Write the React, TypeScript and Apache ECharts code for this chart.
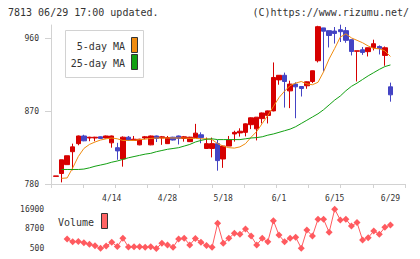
import React, { useEffect, useRef } from "react";
import * as echarts from "echarts";

const dates = [
  "3/31", "4/1", "4/2", "4/3", "4/6", "4/7", "4/8", "4/9", "4/10", "4/13",
  "4/14", "4/15", "4/16", "4/17", "4/20", "4/21", "4/22", "4/23", "4/24", "4/27",
  "4/28", "4/30", "5/1", "5/7", "5/8", "5/11", "5/12", "5/13", "5/14", "5/15",
  "5/18", "5/19", "5/20", "5/21", "5/22", "5/25", "5/26", "5/27", "5/28", "5/29",
  "6/1", "6/2", "6/3", "6/4", "6/5", "6/8", "6/9", "6/10", "6/11", "6/12",
  "6/15", "6/16", "6/17", "6/18", "6/19", "6/22", "6/23", "6/24", "6/25", "6/26",
  "6/29",
];
const padCategories = ["", ""];

// [open, close, low, high]
const candles: number[][] = [
  [789.5, 790, 789.5, 790],
  [793, 810, 782, 810],
  [804, 815, 804, 815],
  [820, 826, 797, 830],
  [830, 839.5, 828, 840],
  [839.5, 833.5, 833, 841],
  [837, 838, 833, 838.5],
  [837, 838, 833, 838.5],
  [838.5, 836.5, 836, 839],
  [837, 839.5, 836.5, 840],
  [831, 839.5, 825, 840],
  [825, 821, 810, 831],
  [811, 838, 801.5, 839],
  [838, 834, 834, 839.5],
  [834, 835.5, 834, 839.5],
  [828.5, 835.5, 828, 836],
  [837, 838.5, 835.5, 839.5],
  [828.5, 839.5, 828, 840],
  [839.5, 836.5, 832, 840],
  [837, 838.5, 828.5, 839.5],
  [830, 837.5, 830, 839.5],
  [838, 834.5, 834, 838.5],
  [839.5, 836.5, 829, 840],
  [836.5, 838.5, 832.5, 839.5],
  [832.5, 838, 832, 838.5],
  [837.5, 843, 837, 854.5],
  [841, 837.5, 830.5, 844],
  [824, 830, 823.5, 837.5],
  [824, 830, 813, 837.5],
  [830, 809, 796.5, 834.5],
  [811, 827, 800, 827.5],
  [827, 834.5, 827, 839.5],
  [842, 844, 832.5, 846],
  [843.3, 845.4, 838.7, 849],
  [844, 854.5, 839, 855],
  [853.5, 862, 848, 862.5],
  [848.3, 862.8, 834, 863],
  [861, 868, 855, 868.5],
  [865, 870.6, 855, 871],
  [870.6, 912, 870, 930.6],
  [909, 914.7, 903, 915],
  [914.7, 907, 874.7, 918],
  [895.4, 903.8, 874, 908],
  [903.8, 900.4, 861.5, 906],
  [900.8, 898.3, 888.4, 901],
  [901.7, 906.6, 898, 907],
  [907, 920.3, 905, 920.5],
  [932.7, 974.9, 930.6, 976],
  [973.4, 969.3, 919.4, 973.5],
  [970, 964, 949.2, 970],
  [969.5, 966.5, 954, 974.5],
  [971.2, 968.7, 955.9, 977.4],
  [970, 958, 955, 974.5],
  [958.8, 944.2, 939.3, 959],
  [944.5, 945, 907, 945],
  [946.3, 943, 940, 949.7],
  [944, 948.8, 938, 949],
  [949, 953.8, 945.5, 958.8],
  [950.4, 948, 940.5, 951.7],
  [939.3, 948.8, 926.5, 950.4],
  [900.4, 890.5, 882, 905.6],
];

const ma5: (number | null)[] = [
  null, 787, 787.5, 800, 814, 824, 829, 832, 834.5, 836,
  837, 836, 834, 834, 834, 835, 835.5, 836.5, 837, 837,
  837, 837, 837, 837, 836.5, 836.5, 836, 836, 835, 830,
  827, 825, 824.5, 826, 830, 838, 845, 855, 865, 876,
  887, 895, 902, 905, 907, 904, 903, 906, 919, 935,
  948, 962, 966, 961, 958, 955, 951, 948, 947.5, 945,
  938,
];

const ma25: (number | null)[] = [
  null, 798, 798, 798, 798, 798.5, 800, 802, 803.5, 805,
  807, 808.5, 810.5, 812.5, 814, 815.5, 817, 818, 820, 821.5,
  823, 824, 825, 827, 829, 832, 834, 835.5, 836, 835,
  835, 835, 835, 835, 836, 837, 837.5, 838.5, 840.5, 842,
  844, 846, 848, 851, 855, 859, 863, 867, 872, 878,
  884, 889, 895.5, 901, 905, 909.5, 914, 918, 922, 925.5,
  927.5,
];

const volume: (number | null)[] = [
  null, null, 4500, 3300, 3400, 2900, 2250, 1600, 600, 1500,
  3100, 1300, 4800, 1100, 1200, 1250, 1000, 1250, 500, 2700,
  2000, 1000, 4500, 4800, 2000, 4700, 3100, 1700, 1000, 11000,
  2700, 4750, 6850, 6400, 8600, 5700, 2000, 4750, 3350, 12100,
  6100, 3350, 4750, 5200, 600, 8200, 5700, 12700, 12700, 7250,
  16900, 12400, 12700, 9900, 11300, 4050, 5000, 7800, 6400, 9350,
  10300,
];

const priceTicks = [780, 870, 960];
const volumeTicks = [500, 8700, 16900];

const FONT = "DejaVu Sans Mono";
const AXIS_GRAY = "#d2d2d2";
const TEXT = "#333333";
const UP = "#d60000";
const DOWN = "#4444c4";

export default function App() {
  const ref = useRef<HTMLDivElement>(null);
  useEffect(() => {
    if (!ref.current) return;
    const chart = echarts.init(ref.current, null, { renderer: "svg" });
    const cats = [...dates, ...padCategories];
    const option: any = {
      animation: false,
      backgroundColor: "#ffffff",
      grid: [
        { left: 51, top: 25, width: 354, height: 159 },
        { left: 53.2, top: 25, width: 351.2, height: 159 },
        { left: 53.2, top: 209.2, width: 351.2, height: 39.3 },
      ],
      xAxis: [
        {
          gridIndex: 0, type: "value", min: 0, max: 11, interval: 1,
          axisLine: { show: true, lineStyle: { color: AXIS_GRAY, width: 1 } },
          axisTick: { show: true, length: 4, lineStyle: { color: AXIS_GRAY } },
          axisLabel: { show: false }, splitLine: { show: false },
        },
        {
          gridIndex: 1, type: "category", data: cats, boundaryGap: true,
          axisLine: { show: false }, axisTick: { show: false }, splitLine: { show: false },
          axisLabel: {
            interval: (i: number) => i > 0 && i % 10 === 0 && i < dates.length,
            fontSize: 8, color: TEXT, fontFamily: FONT, margin: 10,
          },
        },
        { gridIndex: 2, type: "category", data: cats, boundaryGap: true, show: false },
      ],
      yAxis: [
        {
          gridIndex: 0, type: "value", min: 780, max: 977, interval: 90,
          axisLine: { show: true, lineStyle: { color: AXIS_GRAY, width: 1 } },
          axisTick: { show: true, length: 6, customValues: priceTicks, lineStyle: { color: AXIS_GRAY } },
          axisLabel: { customValues: priceTicks, fontSize: 8, color: TEXT, fontFamily: FONT, margin: 12, formatter: (v: number) => String(v) },
          splitLine: { show: false },
        },
        { gridIndex: 1, type: "value", min: 780, max: 977, show: false },
        {
          gridIndex: 2, type: "value", min: 500, max: 16900, interval: 8200,
          axisLine: { show: false }, axisTick: { show: false }, splitLine: { show: false },
          axisLabel: { customValues: volumeTicks, fontSize: 8, color: TEXT, fontFamily: FONT, margin: 9, formatter: (v: number) => String(v) },
        },
      ],
      series: [
        {
          type: "candlestick", xAxisIndex: 1, yAxisIndex: 1, data: candles, barWidth: 5,
          itemStyle: { color: UP, color0: DOWN, borderColor: UP, borderColor0: DOWN, borderWidth: 1 },
        },
        {
          type: "line", xAxisIndex: 1, yAxisIndex: 1, data: ma5, symbol: "none",
          lineStyle: { color: "#f08c10", width: 1 }, z: 3,
        },
        {
          type: "line", xAxisIndex: 1, yAxisIndex: 1, data: ma25, symbol: "none",
          lineStyle: { color: "#12a012", width: 1 }, z: 3,
        },
        {
          type: "line", xAxisIndex: 2, yAxisIndex: 2, data: volume, symbol: "diamond", symbolSize: 7,
          showSymbol: true, showAllSymbol: true,
          itemStyle: { color: "#ff5a5f" }, lineStyle: { color: "#ff5a5f", width: 1 },
        },
      ],
      graphic: [
        { type: "text", left: 8, top: 7, style: { text: "7813 06/29 17:00 updated.", font: `10px '${FONT}'`, fill: TEXT } },
        { type: "text", right: 11, top: 7, style: { text: "(C)https://www.rizumu.net/", font: `10px '${FONT}'`, fill: TEXT } },
        { type: "rect", shape: { x: 65.5, y: 30.5, width: 78, height: 47 }, style: { fill: "#ffffff", stroke: "#d2d2d2", lineWidth: 1 }, z: 10 },
        { type: "text", x: 125, y: 46, style: { text: "5-day MA", font: `10px '${FONT}'`, fill: TEXT, align: "right", verticalAlign: "middle" }, z: 11 },
        { type: "text", x: 125, y: 63, style: { text: "25-day MA", font: `10px '${FONT}'`, fill: TEXT, align: "right", verticalAlign: "middle" }, z: 11 },
        { type: "rect", shape: { x: 131.5, y: 37.5, width: 6, height: 15 }, style: { fill: "#f08c10", stroke: "#333333", lineWidth: 1 }, z: 11 },
        { type: "rect", shape: { x: 131.5, y: 54.5, width: 6, height: 15 }, style: { fill: "#12a012", stroke: "#333333", lineWidth: 1 }, z: 11 },
        { type: "text", x: 58, y: 222, style: { text: "Volume", font: `10px '${FONT}'`, fill: TEXT, verticalAlign: "middle" }, z: 11 },
        { type: "rect", shape: { x: 101.5, y: 213.5, width: 6, height: 15 }, style: { fill: "#ff6464", stroke: "#333333", lineWidth: 1 }, z: 11 },
      ],
    };
    chart.setOption(option);
    return () => chart.dispose();
  }, []);
  return <div ref={ref} style={{ position: "absolute", left: 0, top: 0, width: 420, height: 259 }} />;
}
